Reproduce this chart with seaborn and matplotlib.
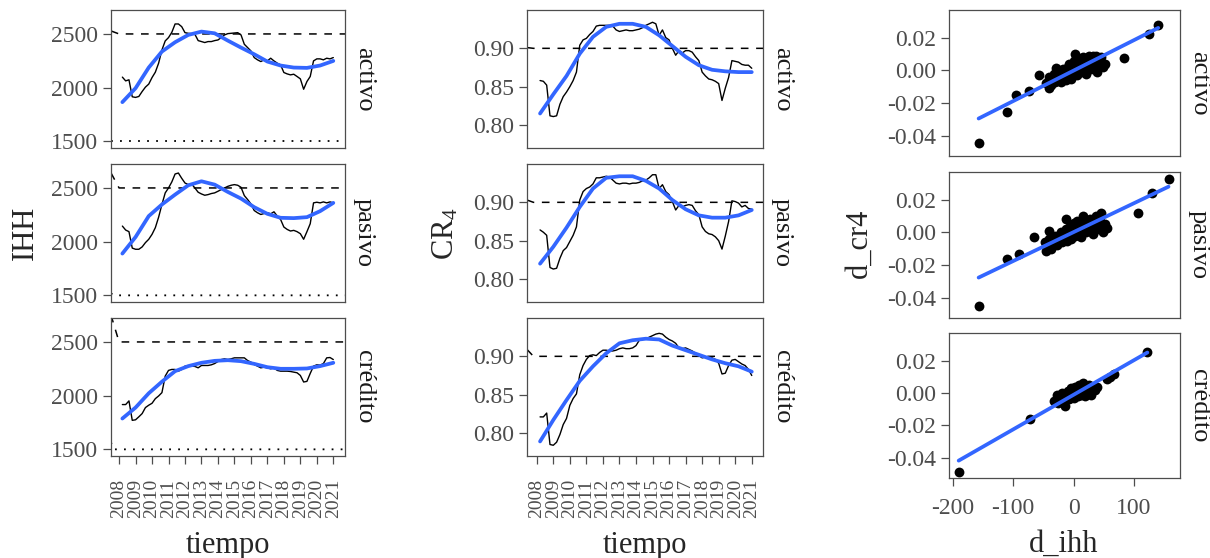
import numpy as np
import pandas as pd
import seaborn as sns
import matplotlib
matplotlib.use("Agg")
from matplotlib import pyplot as plt

# ---------------- data ----------------
sectores = ["activo", "pasivo", "crédito"]

# monthly-ish grid (every 0.2 years) and a coarser one for the smooth curves
tiempo = np.round(np.linspace(2008.2, 2021.0, 65), 2)
tiempo_suave = np.round(np.linspace(2008.2, 2021.0, 17), 2)

ihh_activo = [2098, 2063, 2073, 1915, 1909, 1918, 1964, 2005, 2033, 2094, 2144, 2228, 2351,
              2435, 2466, 2515, 2593, 2593, 2568, 2512, 2506, 2503, 2497, 2438, 2429, 2420,
              2429, 2429, 2438, 2444, 2466, 2491, 2503, 2506, 2509, 2512, 2491, 2404, 2373,
              2342, 2280, 2259, 2243, 2259, 2249, 2274, 2249, 2228, 2212, 2141, 2128, 2119,
              2125, 2104, 2082, 1985, 2057, 2104, 2249, 2268, 2268, 2259, 2274, 2268, 2280]
ihh_pasivo = [2145, 2108, 2093, 1940, 1929, 1929, 1951, 1991, 2022, 2068, 2130, 2228, 2346,
              2454, 2500, 2556, 2630, 2639, 2590, 2546, 2531, 2537, 2500, 2460, 2444, 2432,
              2438, 2448, 2454, 2469, 2485, 2500, 2515, 2525, 2531, 2525, 2506, 2429, 2392,
              2352, 2290, 2269, 2253, 2262, 2269, 2259, 2278, 2238, 2207, 2136, 2114, 2099,
              2105, 2093, 2074, 2022, 2093, 2167, 2361, 2367, 2361, 2370, 2361, 2370, 2361]
ihh_credito = [1917, 1917, 1951, 1770, 1775, 1803, 1833, 1889, 1911, 1929, 1972, 1997, 2028,
               2182, 2235, 2244, 2244, 2228, 2244, 2275, 2275, 2275, 2272, 2259, 2281, 2281,
               2281, 2287, 2299, 2318, 2336, 2343, 2336, 2343, 2352, 2352, 2352, 2352, 2327,
               2312, 2290, 2275, 2259, 2265, 2259, 2250, 2259, 2235, 2228, 2228, 2228, 2225,
               2219, 2213, 2188, 2127, 2133, 2207, 2275, 2287, 2284, 2299, 2352, 2355, 2336]

ihh_suave_activo = [1865, 1995, 2187, 2336, 2423, 2491, 2522, 2506, 2438, 2373, 2311, 2243,
                    2206, 2187, 2184, 2206, 2249]
ihh_suave_pasivo = [1889, 2043, 2238, 2346, 2438, 2525, 2562, 2531, 2463, 2401, 2321, 2259,
                    2222, 2219, 2228, 2284, 2361]
ihh_suave_credito = [1787, 1889, 2022, 2130, 2228, 2275, 2306, 2324, 2330, 2321, 2296, 2265,
                     2250, 2250, 2253, 2275, 2306]

cr4_activo = [0.858, 0.857, 0.852, 0.812, 0.811, 0.812, 0.827, 0.837, 0.843, 0.850, 0.858,
              0.869, 0.904, 0.911, 0.913, 0.918, 0.922, 0.929, 0.930, 0.930, 0.930, 0.930,
              0.929, 0.924, 0.922, 0.923, 0.924, 0.923, 0.923, 0.924, 0.925, 0.927, 0.930,
              0.932, 0.934, 0.932, 0.917, 0.924, 0.914, 0.911, 0.900, 0.891, 0.897, 0.894,
              0.897, 0.897, 0.895, 0.889, 0.884, 0.869, 0.864, 0.860, 0.859, 0.857, 0.854,
              0.832, 0.848, 0.862, 0.884, 0.883, 0.882, 0.879, 0.878, 0.878, 0.874]
cr4_pasivo = [0.864, 0.861, 0.857, 0.815, 0.813, 0.814, 0.827, 0.837, 0.841, 0.849, 0.857,
              0.868, 0.903, 0.914, 0.918, 0.920, 0.924, 0.932, 0.932, 0.933, 0.934, 0.933,
              0.929, 0.925, 0.924, 0.925, 0.925, 0.924, 0.925, 0.925, 0.926, 0.928, 0.929,
              0.932, 0.936, 0.936, 0.918, 0.923, 0.914, 0.910, 0.901, 0.890, 0.896, 0.894,
              0.896, 0.897, 0.896, 0.889, 0.884, 0.868, 0.862, 0.859, 0.858, 0.855, 0.850,
              0.839, 0.856, 0.875, 0.902, 0.901, 0.899, 0.894, 0.896, 0.892, 0.891]
cr4_credito = [0.821, 0.821, 0.826, 0.785, 0.784, 0.788, 0.798, 0.811, 0.819, 0.836, 0.845,
               0.851, 0.876, 0.888, 0.896, 0.901, 0.902, 0.901, 0.905, 0.908, 0.908, 0.907,
               0.907, 0.908, 0.910, 0.911, 0.910, 0.910, 0.911, 0.914, 0.921, 0.922, 0.923,
               0.925, 0.927, 0.929, 0.930, 0.929, 0.925, 0.922, 0.920, 0.917, 0.911, 0.910,
               0.911, 0.909, 0.907, 0.904, 0.901, 0.898, 0.899, 0.899, 0.898, 0.896, 0.891,
               0.877, 0.878, 0.888, 0.895, 0.896, 0.893, 0.890, 0.888, 0.883, 0.875]

cr4_suave_activo = [0.815, 0.840, 0.864, 0.893, 0.915, 0.928, 0.932, 0.932, 0.928, 0.917,
                    0.903, 0.889, 0.878, 0.872, 0.870, 0.869, 0.869]
cr4_suave_pasivo = [0.820, 0.842, 0.867, 0.894, 0.918, 0.932, 0.934, 0.934, 0.928, 0.918,
                    0.903, 0.891, 0.883, 0.880, 0.880, 0.883, 0.890]
cr4_suave_credito = [0.789, 0.817, 0.843, 0.868, 0.887, 0.904, 0.917, 0.921, 0.923, 0.922,
                     0.914, 0.908, 0.902, 0.896, 0.891, 0.887, 0.880]

# threshold lines (with the little kink at their start, as in the original)
umbral_t_ihh = [2007.51, 2008.0, 2021.71]
umbral_alto_ihh = {"activo": [2528, 2500, 2500], "pasivo": [2640, 2500, 2500],
                   "crédito": [2750, 2500, 2500]}
umbral_t_bajo = [2007.51, 2007.65, 2021.71]
umbral_bajo_ihh = {"activo": [1500, 1500, 1500], "pasivo": [1520, 1500, 1500],
                   "crédito": [1565, 1500, 1500]}
umbral_t_cr4 = [2007.41, 2007.8, 2021.68]
umbral_cr4 = {"activo": [0.901, 0.900, 0.900], "pasivo": [0.903, 0.900, 0.900],
              "crédito": [0.909, 0.900, 0.900]}

# monthly changes
dihh_activo = [-157, -110, -95, -74, -57, -41, -29, 3, 37, 84, 124, 140,
               -45, -40, -38, -35, -32, -30, -28, -25, -22, -20, -18, -15, -14, -12, -10,
               -8, -7, -5, -4, -2, 0, 1, 5, 6, 8, 10, 12, 13, 15, 17, 19, 20, 22, 24, 26,
               28, 30, 32, 35, 38, 42, 45, 48, 52]
dcr4_activo = [-0.0445, -0.0253, -0.0151, -0.0126, -0.0029, -0.011, 0.0016, 0.0098, 0.0088,
               0.0078, 0.022, 0.028,
               -0.008, -0.004, -0.009, -0.005, -0.002, -0.007, 0.000, -0.005, -0.003, -0.007,
               0.001, -0.004, -0.001, -0.006, 0.002, -0.003, 0.004, -0.005, 0.000, 0.003,
               -0.002, 0.006, 0.001, -0.003, 0.004, 0.007, -0.001, 0.003, 0.008, 0.000,
               0.005, -0.002, 0.006, 0.002, 0.009, 0.001, 0.004, 0.009, 0.003, -0.001,
               0.006, 0.008, 0.002, 0.004]
dihh_pasivo = [-157, -110, -90, -65, -46, -40, -13, 15, 45, 107, 129, 157,
               -48, -44, -40, -37, -34, -30, -27, -24, -21, -19, -16, -13, -11, -9, -6, -4,
               -2, 0, 2, 4, 6, 8, 10, 12, 14, 16, 18, 20, 23, 25, 27, 30, 32, 34, 37, 40,
               43, 46, 49, 52, 55]
dcr4_pasivo = [-0.045, -0.016, -0.0135, -0.003, -0.0114, 0.001, 0.0083, 0.0098, 0.012, 0.012,
               0.024, 0.033,
               -0.006, -0.009, -0.004, -0.010, -0.005, -0.002, -0.008, -0.004, 0.000, -0.006,
               -0.003, 0.002, -0.005, -0.001, 0.004, -0.004, 0.001, 0.006, -0.002, 0.003,
               0.007, 0.000, 0.004, -0.003, 0.006, 0.002, 0.008, 0.000, 0.005, 0.002, 0.008,
               0.003, -0.001, 0.006, 0.010, 0.002, 0.007, 0.004, 0.000, 0.005, 0.003]
dihh_credito = [-190, -72, 122, 55, 60, 67,
                -32, -28, -25, -22, -19, -16, -14, -12, -9, -7, -5, -3, -1, 1, 3, 5, 7, 9,
                11, 13, 15, 17, 19, 21, 23, 26, 29, 32, 35, 38]
dcr4_credito = [-0.049, -0.0162, 0.025, 0.0087, 0.010, 0.0116,
                -0.005, -0.001, -0.006, -0.003, 0.000, -0.004, -0.008, -0.002, 0.001, -0.004,
                0.003, -0.001, 0.002, -0.003, 0.004, 0.001, -0.002, 0.005, 0.002, -0.001,
                0.006, 0.003, -0.002, 0.004, 0.001, 0.005, -0.001, 0.003, 0.002, 0.004]

ihh = {"activo": ihh_activo, "pasivo": ihh_pasivo, "crédito": ihh_credito}
ihh_suave = {"activo": ihh_suave_activo, "pasivo": ihh_suave_pasivo, "crédito": ihh_suave_credito}
cr4 = {"activo": cr4_activo, "pasivo": cr4_pasivo, "crédito": cr4_credito}
cr4_suave = {"activo": cr4_suave_activo, "pasivo": cr4_suave_pasivo, "crédito": cr4_suave_credito}
dihh = {"activo": dihh_activo, "pasivo": dihh_pasivo, "crédito": dihh_credito}
dcr4 = {"activo": dcr4_activo, "pasivo": dcr4_pasivo, "crédito": dcr4_credito}

# ---------------- style ----------------
sns.set_theme(style="white")
plt.rcParams['font.family'] = ['Liberation Serif', 'DejaVu Serif']
plt.rcParams['mathtext.fontset'] = 'custom'
plt.rcParams['mathtext.rm'] = 'Liberation Serif'
plt.rcParams['mathtext.it'] = 'Liberation Serif:italic'
plt.rcParams['axes.unicode_minus'] = False

W, H = 1210, 558
GRIS = '#4d4d4d'
AZUL = '#3366FF'
fig = plt.figure(figsize=(W / 100, H / 100), dpi=100)


def px_axes(left, top, w, h):
    return fig.add_axes([left / W, 1 - (top + h) / H, w / W, h / H])


def estilo(ax, bottom_ticks):
    for s in ax.spines.values():
        s.set_color(GRIS)
        s.set_linewidth(0.9)
    ax.tick_params(axis='both', length=5.5, width=0.9, color=GRIS, labelcolor=GRIS,
                   labelsize=17, pad=4, left=True, bottom=bottom_ticks,
                   labelbottom=bottom_ticks)
    ax.set_xlabel('')
    ax.set_ylabel('')
    ax.grid(False)


def strip(ax, texto):
    bb = ax.get_position()
    fig.text(bb.x1 + 19 / W, (bb.y0 + bb.y1) / 2, texto, rotation=-90, ha='center',
             va='center', fontsize=19, color='#1a1a1a')


filas_ts = [(10, 138), (164, 138), (318, 138)]
filas_sc = [(10, 146), (172, 146), (333, 145)]
anios = list(range(2008, 2022))

for i, sec in enumerate(sectores):
    ultima = i == 2

    # ---- IHH ----
    ax = px_axes(111, filas_ts[i][0], 234, filas_ts[i][1])
    sns.lineplot(x=umbral_t_ihh, y=umbral_alto_ihh[sec], ax=ax, color='black',
                 linewidth=1.1, linestyle=(0, (5, 5)))
    sns.lineplot(x=umbral_t_bajo, y=umbral_bajo_ihh[sec], ax=ax, color='black',
                 linewidth=1.3, linestyle=(0, (1, 4)))
    sns.lineplot(x=tiempo, y=ihh[sec], ax=ax, color='black', linewidth=1.0)
    sns.lineplot(x=tiempo_suave, y=ihh_suave[sec], ax=ax, color=AZUL, linewidth=2.7)
    ax.set_xlim(2007.51, 2021.71)
    ax.set_ylim(1438, 2723)
    ax.set_yticks([1500, 2000, 2500])
    ax.set_yticklabels(['1500', '2000', '2500'])
    estilo(ax, ultima)
    if ultima:
        ax.set_xticks(anios)
        ax.set_xticklabels([str(a) for a in anios], rotation=90, fontsize=14)
        ax.tick_params(axis='x', pad=11)
    strip(ax, sec)

    # ---- CR4 ----
    ax = px_axes(527, filas_ts[i][0], 236, filas_ts[i][1])
    sns.lineplot(x=umbral_t_cr4, y=umbral_cr4[sec], ax=ax, color='black',
                 linewidth=1.1, linestyle=(0, (5, 5)))
    sns.lineplot(x=tiempo, y=cr4[sec], ax=ax, color='black', linewidth=1.0)
    sns.lineplot(x=tiempo_suave, y=cr4_suave[sec], ax=ax, color=AZUL, linewidth=2.7)
    ax.set_xlim(2007.41, 2021.68)
    ax.set_ylim(0.770, 0.950)
    ax.set_yticks([0.80, 0.85, 0.90])
    ax.set_yticklabels(['0.80', '0.85', '0.90'])
    estilo(ax, ultima)
    if ultima:
        ax.set_xticks(anios)
        ax.set_xticklabels([str(a) for a in anios], rotation=90, fontsize=14)
        ax.tick_params(axis='x', pad=11)
    strip(ax, sec)

    # ---- d_cr4 vs d_ihh ----
    ax = px_axes(949, filas_sc[i][0], 231, filas_sc[i][1])
    df = pd.DataFrame({"d_ihh": dihh[sec], "d_cr4": dcr4[sec]})
    sns.regplot(data=df, x="d_ihh", y="d_cr4", ax=ax, ci=None,
                scatter_kws=dict(color='black', s=50, linewidths=0, alpha=1),
                line_kws=dict(color=AZUL, linewidth=2.7))
    ax.set_xlim(-206, 176)
    ax.set_ylim(-0.0524, 0.037)
    ax.set_yticks([-0.04, -0.02, 0.0, 0.02])
    ax.set_yticklabels(['-0.04', '-0.02', '0.00', '0.02'])
    estilo(ax, ultima)
    if ultima:
        ax.set_xticks([-200, -100, 0, 100])
        ax.set_xticklabels(['-200', '-100', '0', '100'])
        ax.tick_params(axis='x', pad=9)
    strip(ax, sec)

# axis titles
fig.text(25 / W, 1 - 233 / H, "IHH", rotation=90, ha='center', va='center', fontsize=22)
fig.text(446 / W, 1 - 233 / H, r"CR$_{4}$", rotation=90, ha='center', va='center', fontsize=22)
fig.text(859 / W, 1 - 243 / H, "d_cr4", rotation=90, ha='center', va='center', fontsize=22)
fig.text(228 / W, 1 - 545 / H, "tiempo", ha='center', va='center', fontsize=22)
fig.text(645 / W, 1 - 545 / H, "tiempo", ha='center', va='center', fontsize=22)
fig.text(1064 / W, 1 - 544 / H, "d_ihh", ha='center', va='center', fontsize=22)

fig.savefig("out.png", dpi=100)
